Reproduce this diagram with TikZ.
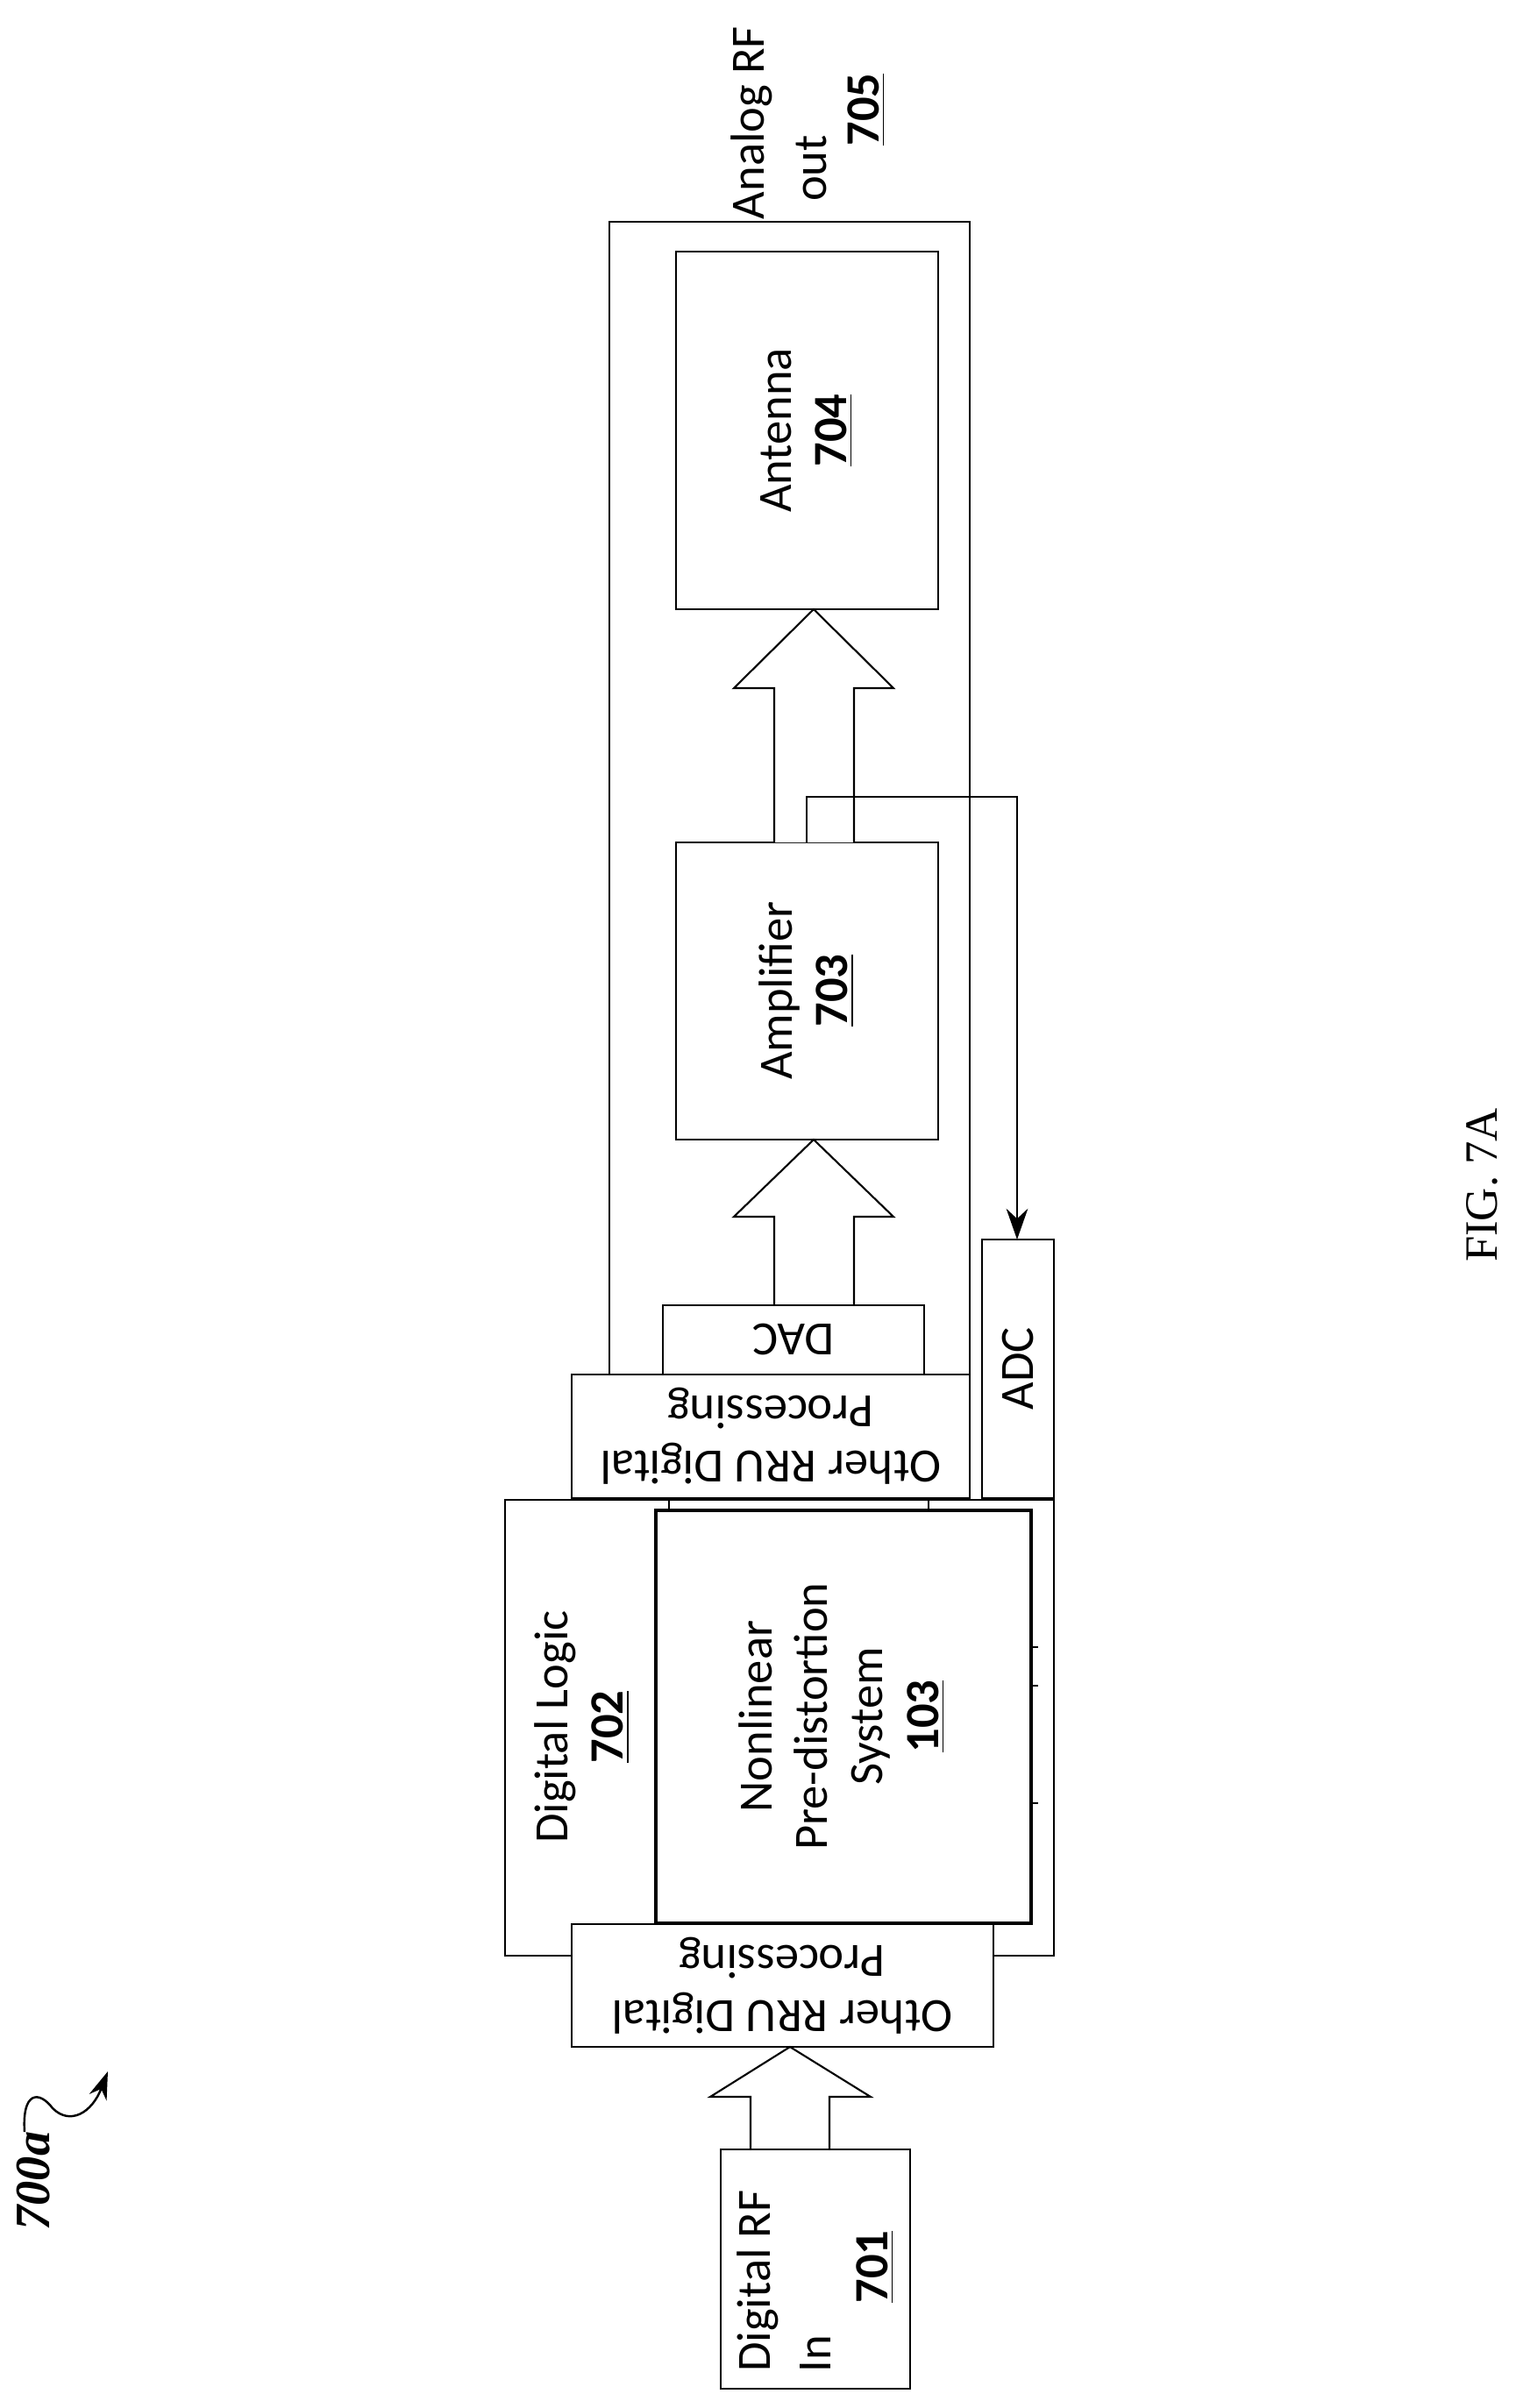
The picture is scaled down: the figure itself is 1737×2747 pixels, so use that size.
\documentclass[tikz,border=0pt]{standalone}
\usepackage{fontspec}
\setmainfont{Carlito}
\newfontfamily\serifff{Liberation Serif}
\usetikzlibrary{arrows.meta}
\begin{document}
\begin{tikzpicture}[x=0.01cm,y=-0.01cm,
  box/.style={draw,line width=0.7pt},
  lbl/.style={font=\fontsize{15.5}{18}\selectfont,align=center,inner sep=0pt},
  fat/.style={draw,line width=0.6pt,fill=white}]
\useasboundingbox (0,0) rectangle (1737,2747);
% outer box 705
\draw[line width=0.7pt] (695,1568) -- (695,253) -- (1106,253) -- (1106,1568);
% antenna, amplifier
\draw[box] (771,287) rectangle (1070,695);
\node[lbl,rotate=90] (ant) at (920,491) {Antenna\\\textbf{\underline{704}}};
\draw[box] (771,961) rectangle (1070,1300);
\node[lbl,rotate=90] (amp) at (920,1130) {Amplifier\\\textbf{\underline{703}}};
% fat arrows
\draw[fat] (883,961) -- (883,785) -- (837,785) -- (928,695) -- (1019,785) -- (974,785) -- (974,961);
\draw[fat] (883,1489) -- (883,1388) -- (837,1388) -- (928,1300) -- (1019,1388) -- (974,1388) -- (974,1489);
% DAC
\draw[box] (756,1489) rectangle (1054,1568);
\node[lbl,rotate=180] (dac) at (905,1528) {DAC};
% upper RRU
\draw[box] (652,1568) rectangle (1106,1709);
\node[lbl,rotate=180] (rru1) at (879,1638) {Other RRU Digital\\Processing};
% ADC
\draw[box] (1120,1414) rectangle (1202,1709);
\node[lbl,rotate=90] (adc) at (1161,1561) {ADC};
% feedback
\coordinate (fb1) at (920,961);
\coordinate (fb2) at (920,909);
\coordinate (fb3) at (1160,909);
\coordinate (fb4) at (1160,1414);
\draw[line width=0.7pt,-{Stealth[length=10pt,width=7pt]}] (fb1) -- (fb2) -- (fb3) -- (fb4);
% digital logic
\draw[box] (576,1711) rectangle (1202,2231);
\draw[line width=0.6pt] (763,1711) -- (763,1723) (1059,1711) -- (1059,1723);
\node[lbl,rotate=90] (dl) at (664,1970) {Digital Logic\\\textbf{\underline{702}}};
\draw[line width=1.3pt,fill=white] (748,1723) rectangle (1176,2194);
\node[lbl,rotate=90] (npd) at (960,1958) {Nonlinear\\Pre-distortion\\System\\\textbf{\underline{103}}};
\foreach \yy in {1879,1923,2057} \draw[line width=0.6pt] (1176,\yy) -- (1184,\yy);
% lower RRU
\draw[box,fill=white] (652,2195) rectangle (1133,2335);
\node[lbl,rotate=180] (rru2) at (892,2265) {Other RRU Digital\\Processing};
% input arrow
\draw[fat] (856,2452) -- (856,2392) -- (810,2392) -- (901,2335) -- (993,2392) -- (946,2392) -- (946,2452);
% Digital RF In
\draw[box] (822,2452) rectangle (1038,2725);
\node[lbl,rotate=90] (drf) at (864,2602) {Digital RF};
\node[lbl,rotate=90] (din) at (930,2685) {In};
\node[lbl,rotate=90] (d701) at (998,2586) {\textbf{\underline{701}}};
% Analog RF out 705
\node[lbl,rotate=90] (arf) at (857,140) {Analog RF};
\node[lbl,rotate=90] (aout) at (925,192) {out};
\node[lbl,rotate=90] (a705) at (988,125) {\textbf{\underline{705}}};
% FIG
\node[rotate=90,font=\serifff\fontsize{15}{18}\selectfont] (fig) at (1690,1352) {FIG. 7A};
% 700a
\node[rotate=90,font=\serifff\bfseries\itshape\fontsize{16}{19}\selectfont] (lab) at (38,2488) {700a};
\coordinate (sq) at (123,2363);
\draw[line width=0.7pt,-{Stealth[length=9pt,width=6pt]}] (28,2432) .. controls (25,2385) and (45,2385) .. (60,2405) .. controls (80,2425) and (105,2410) .. (sq);
\end{tikzpicture}
\end{document}
